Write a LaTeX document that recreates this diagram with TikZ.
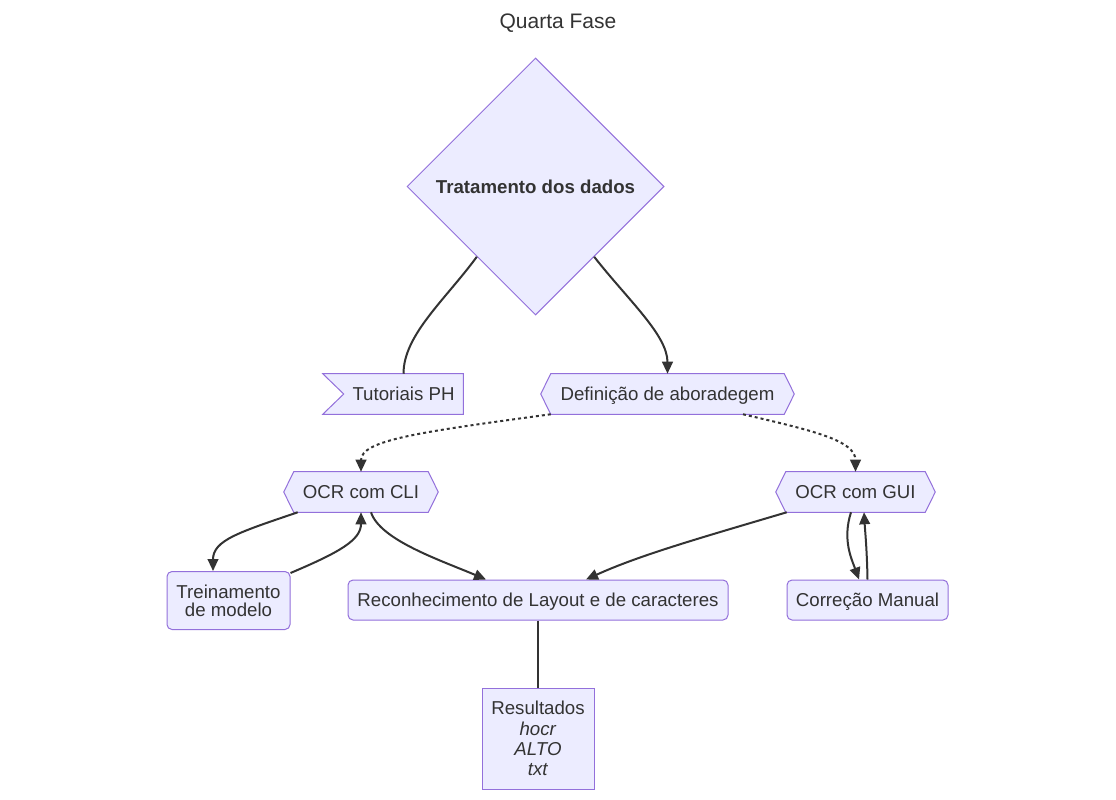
\documentclass[tikz,border=0pt]{standalone}
\usepackage{fontspec}
\setmainfont{Liberation Sans}
\usetikzlibrary{shapes.geometric,arrows.meta,calc,backgrounds}
\definecolor{nodefill}{HTML}{ECECFF}
\definecolor{nodeline}{HTML}{9370DB}
\definecolor{ink}{HTML}{333333}
\begin{document}
\begin{tikzpicture}[x=0.75pt,y=-0.75pt,
  every node/.style={text=ink,font=\fontsize{14}{16.8}\selectfont,inner sep=0pt},
  shapeline/.style={fill=nodefill,draw=nodeline,line width=0.75pt},
  oneline/.style={text height=10pt,text depth=0pt},
  boxnode/.style={rectangle,minimum height=30pt,oneline},
  roundbox/.style={shapeline,rectangle,rounded corners=3.75pt,minimum height=30pt},
  link/.style={draw=ink,line width=1.5pt},
  arrowlink/.style={link,-{Triangle[length=9pt,width=8pt]}},
  dottedlink/.style={arrowlink,dash pattern=on 2.25pt off 2.25pt}]
\useasboundingbox (0,0) rectangle (1116,799);

% nodes
\node[font=\fontsize{15.75}{18}\selectfont,oneline] (title) at (558,22) {Quarta Fase};
\node[diamond,shapeline,aspect=1,minimum width=192.75pt,minimum height=192.75pt,oneline,
      font=\fontsize{14}{16.8}\selectfont\bfseries] (dia) at (535.5,186.5) {Tratamento dos dados};
\node[boxnode,minimum width=89.25pt] (tut) at (403.5,394) {Tutoriais PH};
\node[boxnode,minimum width=189.75pt] (def) at (667.5,394) {Definição de aboradegem};
\node[boxnode,minimum width=115.5pt] (cli) at (361,492) {OCR com CLI};
\node[boxnode,minimum width=119.25pt] (gui) at (855.5,492) {OCR com GUI};
\node[roundbox,minimum width=92.25pt,minimum height=43.5pt,align=center,
      font=\fontsize{14}{13.5}\selectfont] (tre) at (228.5,600.5) {Treinamento\\de modelo};
\node[roundbox,oneline,minimum width=285pt] (rec) at (538,600) {Reconhecimento de Layout e de caracteres};
\node[roundbox,oneline,minimum width=120.75pt] (cor) at (867.5,600) {Correção Manual};
\node[shapeline,rectangle,minimum width=84pt,minimum height=75.75pt,align=center,
      font=\fontsize{14}{15.2}\selectfont] (res) at (538,738.5)
      {Resultados\\\textit{hocr}\\\textit{ALTO}\\\textit{txt}};

% shapes behind the text
\begin{scope}[on background layer]
  \fill[white] (0,0) rectangle (1116,799);
  \draw[shapeline] ($(tut.north west)+(-21,0)$) -- (tut.north east) -- (tut.south east)
     -- ($(tut.south west)+(-21,0)$) -- (tut.west) -- cycle;
  \foreach \n in {def,cli,gui}{
    \draw[shapeline] (\n.west) -- ($(\n.north west)+(10,0)$) -- ($(\n.north east)+(-10,0)$)
      -- (\n.east) -- ($(\n.south east)+(-10,0)$) -- ($(\n.south west)+(10,0)$) -- cycle;
  }
\end{scope}

% connectors
\draw[link] ($(dia.west)!0.545!(dia.south)$) .. controls (445,300) and (403.5,335) .. (tut.north);
\draw[arrowlink] ($(dia.east)!0.545!(dia.south)$) .. controls (628,300) and (667.5,335) .. (def.north);
\draw[dottedlink] ($(def.south west)+(10,0)$) .. controls (420,432) and (361,440) .. (cli.north);
\draw[dottedlink] ($(def.south)+(75.5,0)$) .. controls (810,430) and (855.5,440) .. (gui.north);
\draw[arrowlink] ($(cli.south west)+(14,0)$) .. controls (240,532) and (213,540) .. ($(tre.north)+(-15.5,0)$);
\draw[arrowlink] ($(tre.north east)+(0,2)$) .. controls (340,552) and (361,540) .. (cli.south);
\draw[arrowlink] ($(cli.south)+(10,0)$) .. controls (380,540) and (440,560) .. ($(rec.north)+(-52,0)$);
\draw[arrowlink] ($(gui.south west)+(11,0)$) .. controls (700,538) and (640,555) .. ($(rec.north)+(48,0)$);
\draw[arrowlink] ($(gui.south)+(-4.5,0)$) .. controls (842,540) and (852,560) .. ($(cor.north)+(-8.5,0)$);
\draw[arrowlink] (cor.north) .. controls (867,550) and (865,530) .. ($(gui.south)+(8.5,0)$);
\draw[link] (rec.south) -- (res.north);
\end{tikzpicture}
\end{document}
